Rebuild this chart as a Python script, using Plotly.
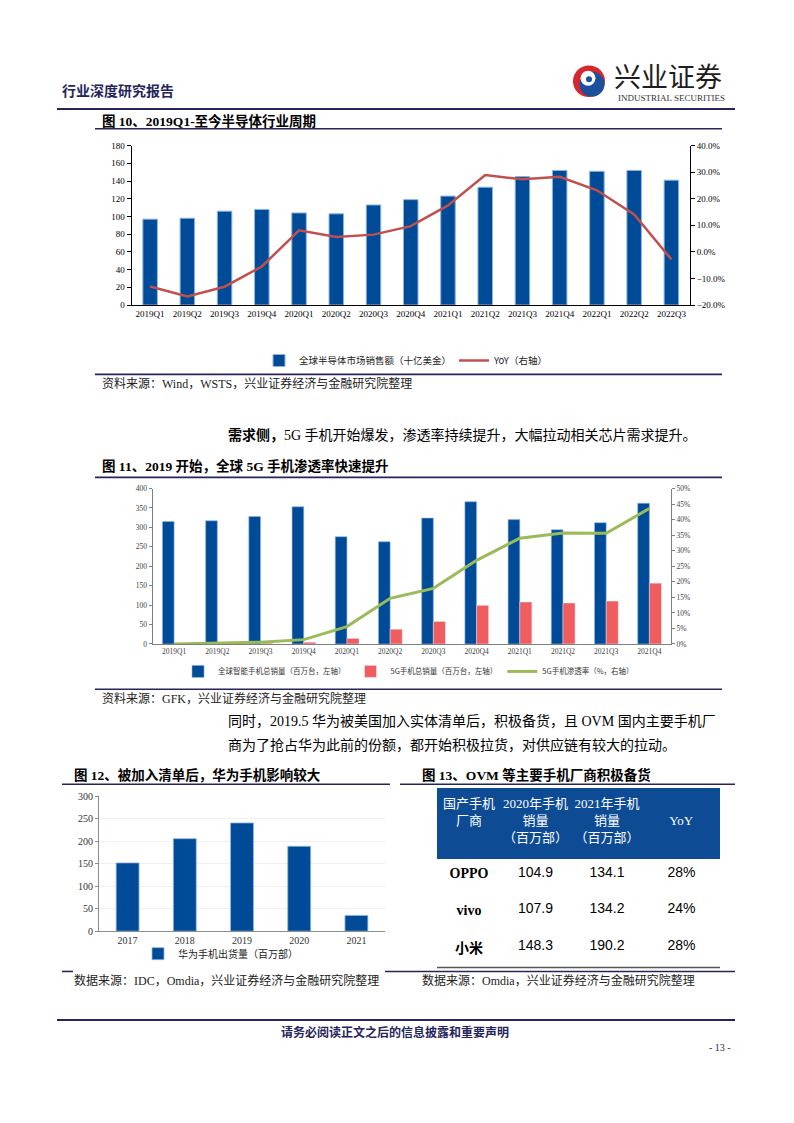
import plotly.graph_objects as go

W, H = 794, 1123


def X(p):
    return p / W


def Y(p):
    return 1 - p / H


# ---------------- data ----------------
quarters_10 = ["2019Q1", "2019Q2", "2019Q3", "2019Q4", "2020Q1", "2020Q2", "2020Q3", "2020Q4",
               "2021Q1", "2021Q2", "2021Q3", "2021Q4", "2022Q1", "2022Q2", "2022Q3"]
semi_sales = [97, 98, 106, 108, 104, 103, 113, 119, 123, 133, 145, 152, 151, 152, 141]
semi_yoy = [-0.130, -0.168, -0.131, -0.055, 0.081, 0.056, 0.065, 0.097, 0.175, 0.289,
            0.273, 0.283, 0.232, 0.141, -0.028]

quarters_11 = ["2019Q1", "2019Q2", "2019Q3", "2019Q4", "2020Q1", "2020Q2", "2020Q3", "2020Q4",
               "2021Q1", "2021Q2", "2021Q3", "2021Q4"]
phone_total = [315, 317, 328, 353, 276, 263, 324, 366, 320, 294, 312, 362]
phone_5g = [0, 0.5, 2, 4.5, 14.5, 38, 58, 99.5, 108, 105.5, 110.5, 156.5]
pen_5g = [0.000, 0.003, 0.006, 0.014, 0.056, 0.147, 0.179, 0.269, 0.340, 0.357, 0.356, 0.436]

years_12 = ["2017", "2018", "2019", "2020", "2021"]
huawei_ship = [152, 206, 241, 189, 35]

NB = "\u00a0"
table_header = ["国产手机<br>" + NB * 4 + "厂商",
                "2020年手机<br>" + NB * 6 + "销量<br>（百万部）",
                "2021年手机<br>" + NB * 6 + "销量<br>（百万部）",
                NB + "<br>YoY"]
brands = ["OPPO", "vivo", "小米"]
sales_2020 = [104.9, 107.9, 148.3]
sales_2021 = [134.1, 134.2, 190.2]
yoy_13 = ["28%", "24%", "28%"]

# ---------------- styles ----------------
SERIF = "Liberation Serif, Times New Roman, Noto Sans CJK SC, serif"
CJK = "Noto Sans CJK SC, sans-serif"
NAVY = "#25255c"
BLUE = "#004b97"
RED_LINE = "#c0504d"
RED_BAR = "#f05d5e"
GREEN = "#9bbb59"

fig = go.Figure()

# Fig 10
fig.add_trace(go.Bar(x=quarters_10, y=semi_sales, name="全球半导体市场销售额（十亿美金）",
                     marker=dict(color=BLUE, line=dict(color="#8fb4e0", width=1)), width=0.39,
                     xaxis="x", yaxis="y", legend="legend", hoverinfo="skip"))
fig.add_trace(go.Scatter(x=quarters_10, y=semi_yoy, name="YoY（右轴）", mode="lines",
                         line=dict(color=RED_LINE, width=2.5), xaxis="x", yaxis="y2",
                         legend="legend", hoverinfo="skip"))

# Fig 11
fig.add_trace(go.Bar(x=quarters_11, y=phone_total, name="全球智能手机总销量（百万台，左轴）",
                     marker=dict(color=BLUE, line=dict(color="#8fb4e0", width=0.6)),
                     width=0.27, offset=-0.27,
                     xaxis="x3", yaxis="y3", legend="legend2", hoverinfo="skip"))
fig.add_trace(go.Bar(x=quarters_11, y=phone_5g, name="5G手机总销量（百万台，左轴）",
                     marker=dict(color=RED_BAR), width=0.28, offset=0.0,
                     xaxis="x3", yaxis="y3", legend="legend2", hoverinfo="skip"))
fig.add_trace(go.Scatter(x=quarters_11, y=pen_5g, name="5G手机渗透率（%，右轴）", mode="lines",
                         line=dict(color=GREEN, width=3), xaxis="x3", yaxis="y4",
                         legend="legend2", hoverinfo="skip"))

# Fig 12
fig.add_trace(go.Bar(x=years_12, y=huawei_ship, name="华为手机出货量（百万部）",
                     marker=dict(color=BLUE, line=dict(color="#8fb4e0", width=0.8)), width=0.4,
                     xaxis="x5", yaxis="y5", legend="legend3", hoverinfo="skip"))

# Fig 13 table
fig.add_trace(go.Table(
    domain=dict(x=[X(437), X(719)], y=[Y(971), Y(790)]),
    columnwidth=[64, 69, 74, 75],
    header=dict(values=table_header, fill_color="#0d4c95", line_color="#0d4c95",
                align="center", height=70,
                font=dict(color="white", size=13, family=SERIF)),
    cells=dict(values=[["<b>" + b + "</b>" for b in brands],
                       ["%.1f" % v for v in sales_2020],
                       ["%.1f" % v for v in sales_2021],
                       yoy_13],
               fill_color="white", line_color="white", align="center", height=36.7,
               font=dict(color="black", size=14,
                         family=[SERIF, "Liberation Sans, Arial, sans-serif",
                                 "Liberation Sans, Arial, sans-serif",
                                 "Liberation Sans, Arial, sans-serif"])),
))

tick9 = dict(family=SERIF, size=9, color="black")
tick7 = dict(family=SERIF, size=7.5, color="#404040")
tick10 = dict(family=SERIF, size=10, color="#333333")

layout = dict(
    width=W, height=H, margin=dict(l=0, r=0, t=0, b=0),
    paper_bgcolor="white", plot_bgcolor="rgba(0,0,0,0)",
    barmode="overlay", showlegend=True,
    # Fig 10 axes
    xaxis=dict(domain=[X(131.5), X(690)], anchor="y", type="category", showline=True,
               linecolor="black", linewidth=1, ticks="", tickfont=tick9, showgrid=False,
               fixedrange=True, tickangle=0),
    yaxis=dict(domain=[Y(302), Y(141)], anchor="x", range=[0, 180], dtick=20, showline=True,
               linecolor="black", linewidth=1, ticks="outside", ticklen=4, tickcolor="black",
               tickfont=tick9, showgrid=False, zeroline=False, fixedrange=True),
    yaxis2=dict(overlaying="y", anchor="x", side="right", range=[-0.2, 0.4], dtick=0.1,
                tickformat=".1%", showline=True, linecolor="black", linewidth=1,
                ticks="outside", ticklen=4, tickcolor="black", tickfont=tick9,
                showgrid=False, zeroline=False, fixedrange=True),
    # Fig 11 axes
    xaxis3=dict(domain=[X(152.5), X(671)], anchor="y3", type="category", showline=True,
                linecolor="#7f7f7f", linewidth=1, ticks="", tickfont=tick7, showgrid=False,
                fixedrange=True, tickangle=0),
    yaxis3=dict(domain=[Y(644.3), Y(487.3)], anchor="x3", range=[0, 400], dtick=50,
                showline=True, linecolor="#7f7f7f", linewidth=1, ticks="outside", ticklen=3,
                tickcolor="#7f7f7f", tickfont=tick7, showgrid=False, zeroline=False,
                fixedrange=True),
    yaxis4=dict(overlaying="y3", anchor="x3", side="right", range=[0, 0.5], dtick=0.05,
                tickformat=".0%", showline=True, linecolor="#7f7f7f", linewidth=1,
                ticks="outside", ticklen=3, tickcolor="#7f7f7f", tickfont=tick7,
                showgrid=False, zeroline=False, fixedrange=True),
    # Fig 12 axes
    xaxis5=dict(domain=[X(99), X(385)], anchor="y5", type="category", showline=True,
                linecolor="#8c8c8c", linewidth=1, ticks="", tickfont=tick10, showgrid=False,
                fixedrange=True),
    yaxis5=dict(domain=[Y(934.3), Y(798.3)], anchor="x5", range=[0, 300], dtick=50,
                showline=True, linecolor="#8c8c8c", linewidth=1, ticks="outside", ticklen=3,
                tickcolor="#8c8c8c", tickfont=tick10, showgrid=True, gridcolor="#f0f0f0",
                zeroline=False, fixedrange=True),
    legend=dict(orientation="h", x=X(259), y=Y(358), xanchor="left", yanchor="middle",
                font=dict(family=CJK, size=9.5, color="#222222"), itemwidth=30,
                entrywidth=150, entrywidthmode="pixels", bgcolor="rgba(0,0,0,0)",
                traceorder="normal"),
    legend2=dict(orientation="h", x=X(178), y=Y(672), xanchor="left", yanchor="middle",
                 font=dict(family=CJK, size=7.5, color="#333333"), itemwidth=30,
                 bgcolor="rgba(0,0,0,0)", traceorder="normal"),
    legend3=dict(orientation="h", x=X(138), y=Y(957), xanchor="left", yanchor="middle",
                 font=dict(family=CJK, size=10, color="#222222"), itemwidth=30,
                 bgcolor="rgba(0,0,0,0)"),
)
fig.update_layout(**layout)

# ---------------- page text ----------------
ann = []


def txt(x, y, s, size=12, color="black", family=SERIF, xanchor="left"):
    ann.append(dict(x=X(x), y=Y(y), xref="paper", yref="paper", text=s, showarrow=False,
                    xanchor=xanchor, yanchor="middle", align="left",
                    font=dict(size=size, color=color, family=family)))


txt(60, 85, "<b>行业深度研究报告</b>", 14, NAVY, CJK)
txt(612, 70, "兴业证券", 27, "#1e1e1e", CJK)
txt(671, 93, "INDUSTRIAL SECURITIES", 9, "#333333", SERIF, "center")

txt(100, 116, "<b>图 10、2019Q1-至今半导体行业周期</b>", 13.5, "black", SERIF)
txt(100, 381, "资料来源：Wind，WSTS，兴业证券经济与金融研究院整理", 12, "#222222", SERIF)
txt(226, 433, "<b>需求侧，</b>5G 手机开始爆发，渗透率持续提升，大幅拉动相关芯片需求提升。", 14, "black", SERIF)
txt(100, 465, "<b>图 11、2019 开始，全球 5G 手机渗透率快速提升</b>", 13.5, "black", SERIF)
txt(100, 699, "资料来源：GFK，兴业证券经济与金融研究院整理", 12, "#222222", SERIF)
txt(226, 722, "同时，2019.5 华为被美国加入实体清单后，积极备货，且 OVM 国内主要手机厂", 14, "black", SERIF)
txt(226, 746, "商为了抢占华为此前的份额，都开始积极拉货，对供应链有较大的拉动。", 14, "black", SERIF)
txt(72, 777, "<b>图 12、被加入清单后，华为手机影响较大</b>", 13.5, "black", SERIF)
txt(420, 777, "<b>图 13、OVM 等主要手机厂商积极备货</b>", 13.5, "black", SERIF)
txt(72, 984, "数据来源：IDC，Omdia，兴业证券经济与金融研究院整理", 12, "#222222", SERIF)
txt(420, 984, "数据来源：Omdia，兴业证券经济与金融研究院整理", 12, "#222222", SERIF)
txt(395, 1036, "<b>请务必阅读正文之后的信息披露和重要声明</b>", 12, NAVY, CJK, "center")
txt(720, 1052, "- 13 -", 10, NAVY, SERIF, "center")

fig.update_layout(annotations=ann)

# ---------------- page lines & logo ----------------
shapes = []


def hline(x0, x1, y, color=NAVY, width=1.6):
    shapes.append(dict(type="line", xref="paper", yref="paper", x0=X(x0), x1=X(x1),
                       y0=Y(y), y1=Y(y), line=dict(color=color, width=width)))


def circ(cx, cy, r, color):
    shapes.append(dict(type="circle", xref="paper", yref="paper", x0=X(cx - r), x1=X(cx + r),
                       y0=Y(cy + r), y1=Y(cy - r), fillcolor=color, line=dict(width=0)))


hline(57, 735, 104, NAVY, 1.8)
hline(95, 722, 124)
hline(95, 722, 372)
hline(95, 722, 476)
hline(95, 722, 690)
hline(62, 390, 786)
hline(400, 735, 786)
hline(62, 73, 975)
hline(385, 735, 975)
hline(437, 720, 971, "#555555", 1.5)
hline(57, 735, 1024, NAVY, 2)

# logo
circ(589, 76, 16, "#d7262e")
circ(592, 79, 12.5, "#1d4f9f")
circ(588, 73, 7.5, "white")
circ(589, 74, 3, "#1d4f9f")

fig.update_layout(shapes=shapes)

fig.write_html(
    "out.html",
    config={"displayModeBar": False, "staticPlot": False},
    post_script="document.body.style.margin='0';document.body.style.padding='0';"
                "document.documentElement.style.overflow='hidden';",
)
